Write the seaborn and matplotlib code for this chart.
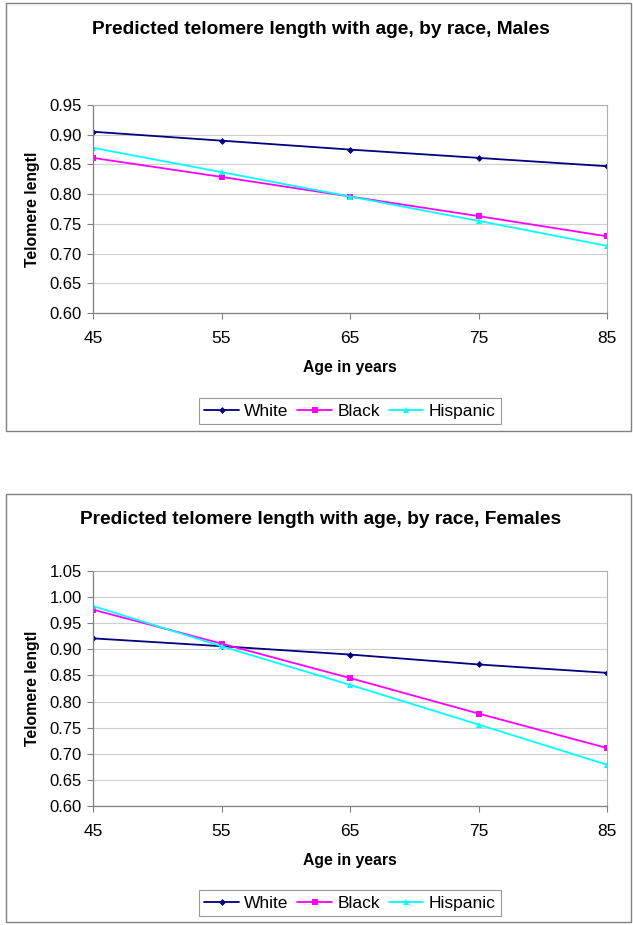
import matplotlib
matplotlib.use("Agg")
import matplotlib.pyplot as plt
import matplotlib.patches as mpatches
import seaborn as sns

# data
ages = [45, 55, 65, 75, 85]
races = ["White", "Black", "Hispanic"]

male_white = [0.905, 0.890, 0.875, 0.861, 0.847]
male_black = [0.861, 0.829, 0.796, 0.763, 0.729]
male_hispanic = [0.878, 0.837, 0.796, 0.755, 0.713]

female_white = [0.921, 0.906, 0.890, 0.871, 0.855]
female_black = [0.976, 0.911, 0.845, 0.777, 0.711]
female_hispanic = [0.983, 0.906, 0.832, 0.756, 0.679]

male_ticks = [0.60, 0.65, 0.70, 0.75, 0.80, 0.85, 0.90, 0.95]
female_ticks = [0.60, 0.65, 0.70, 0.75, 0.80, 0.85, 0.90, 0.95, 1.00, 1.05]

colors = {"White": "#000080", "Black": "#ff00ff", "Hispanic": "#00ffff"}
markers = {"White": ("D", 3.5), "Black": ("s", 5), "Hispanic": ("^", 5)}

sns.set_style("white")
plt.rcParams["font.family"] = ["Liberation Sans", "DejaVu Sans"]
plt.rcParams.update({"text.color": "black", "axes.labelcolor": "black",
                     "xtick.labelcolor": "black", "ytick.labelcolor": "black"})

W, H = 633, 925
fig = plt.figure(figsize=(W / 100, H / 100), dpi=100)


def px_box(x0, y0, x1, y1):
    # pixel rectangle (top-left origin) -> figure fraction [l, b, w, h]
    return [x0 / W, 1 - y1 / H, (x1 - x0) / W, (y1 - y0) / H]


def draw_chart(frame, plot, title, title_y, series, ticks, ylim, legend_y):
    l, b, w, h = px_box(*frame)
    fig.patches.append(mpatches.Rectangle((l, b), w, h, transform=fig.transFigure,
                                          fill=False, edgecolor="#808080", lw=1.0))
    fig.text(0.507, 1 - title_y / H, title, ha="center", va="center",
             fontsize=13.8, fontweight="bold", color="black")

    ax = fig.add_axes(px_box(*plot))
    for race, vals in zip(races, series):
        m, ms = markers[race]
        sns.lineplot(x=ages, y=vals, ax=ax, color=colors[race], marker=m,
                     markersize=ms, markeredgewidth=0, linewidth=1.3, label=race)

    ax.set_xlim(45, 85)
    ax.set_ylim(*ylim)
    ax.set_xticks(ages)
    ax.set_yticks(ticks)
    ax.set_yticklabels([f"{t:.2f}" for t in ticks])
    ax.yaxis.grid(True, color="#d0d0d0", lw=0.8)
    ax.set_axisbelow(True)
    for side in ["top", "right"]:
        ax.spines[side].set_color("#b0b0b0")
        ax.spines[side].set_linewidth(0.8)
    for side in ["left", "bottom"]:
        ax.spines[side].set_color("#808080")
        ax.spines[side].set_linewidth(0.9)
    ax.tick_params(axis="x", direction="out", length=4, width=0.8, color="#808080",
                   labelcolor="black", pad=9, labelsize=12.5, bottom=True)
    ax.tick_params(axis="y", direction="out", length=4, width=0.8, color="#808080",
                   labelcolor="black", pad=4, labelsize=12, left=True)
    ax.set_xlabel("Age in years", fontsize=11.3, fontweight="bold", labelpad=10)
    ax.set_ylabel("Telomere lengtl", fontsize=11.3, fontweight="bold", labelpad=7)

    handles, labels = ax.get_legend_handles_labels()
    ax.legend_.remove()
    leg = fig.legend(handles, labels, loc="center", bbox_to_anchor=(350 / W, 1 - legend_y / H),
                     ncol=3, fontsize=12.5, frameon=True, fancybox=False,
                     edgecolor="#808080", handlelength=2.0, handletextpad=0.3,
                     columnspacing=0.5, borderpad=0.3, labelcolor="black")
    leg.get_frame().set_linewidth(0.8)
    return ax


draw_chart((6, 3, 631, 431), (93, 105, 607, 313),
           "Predicted telomere length with age, by race, Males", 30,
           [male_white, male_black, male_hispanic], male_ticks, (0.60, 0.95), 411)

draw_chart((6, 494, 631, 922), (93, 571, 607, 806),
           "Predicted telomere length with age, by race, Females", 520,
           [female_white, female_black, female_hispanic], female_ticks, (0.60, 1.05), 903)

fig.savefig("out.png", dpi=100)
